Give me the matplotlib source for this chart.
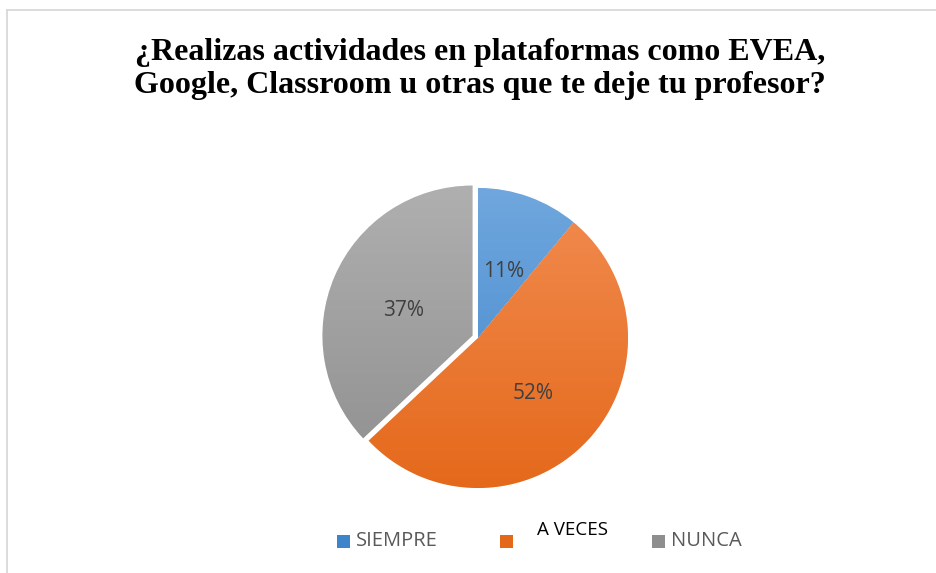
import numpy as np
import matplotlib
matplotlib.use('Agg')
import matplotlib.pyplot as plt
from matplotlib.colors import LinearSegmentedColormap
from matplotlib.patches import Rectangle
from matplotlib.lines import Line2D

title = '¿Realizas actividades en plataformas como EVEA,\nGoogle, Classroom u otras que te deje tu profesor?'
labels = ['SIEMPRE', 'A VECES', 'NUNCA']
values = [11, 52, 37]
top_colors = ['#71a8de', '#f28d52', '#b0b0b0']
bottom_colors = ['#3e84cb', '#e4681a', '#8e8e8e']

W, H = 936, 573
fig = plt.figure(figsize=(W / 100, H / 100), dpi=100)

# thin frame lines (top and left)
fig.add_artist(Line2D([6.5 / W, 1], [1 - 9.5 / H, 1 - 9.5 / H], color='#d9d9d9', lw=1.3))
fig.add_artist(Line2D([6.5 / W, 6.5 / W], [0, 1 - 9.5 / H], color='#d9d9d9', lw=1.3))

fig.text(480 / W, 1 - 69 / H, title, ha='center', va='center', fontsize=23,
         fontweight='bold', family='Liberation Serif', linespacing=1.22)

# pie axes
r_px = 150
cx, cy = 478, 338
half = r_px * 1.1
ax = fig.add_axes([(cx - half) / W, (H - cy - half) / H, 2 * half / W, 2 * half / H])
ax.set_xlim(-1.1, 1.1)
ax.set_ylim(-1.1, 1.1)
ax.axis('off')

wedges, texts, autotexts = ax.pie(values, startangle=90, counterclock=False,
                                  explode=[0, 0, 0.04], autopct='%1.0f%%', pctdistance=0.5,
                                  wedgeprops=dict(edgecolor='white', linewidth=0.5),
                                  textprops=dict(fontsize=15, color='#404040', family='Open Sans'))

grad = np.linspace(0, 1, 256).reshape(-1, 1)
for w, c1, c2 in zip(wedges, top_colors, bottom_colors):
    w.set_facecolor(c2)
    cmap = LinearSegmentedColormap.from_list('g', [c1, c2])
    im = ax.imshow(grad, extent=(-1.1, 1.1, -1.05, 1.05), cmap=cmap, aspect='auto',
                   zorder=w.get_zorder() + 0.1, origin='upper')
    im.set_clip_path(w)
for t in autotexts:
    t.set_zorder(5)
    x, y = t.get_position()
    t.set_position((x, y - 0.03))
ax.set_xlim(-1.1, 1.1)
ax.set_ylim(-1.1, 1.1)

# legend, drawn by hand
legend_items = [(337, 356, 541), (500, None, 541), (652, 671, 541)]
for (mx, tx, ty), lab, c1, c2 in zip(legend_items, labels, top_colors, bottom_colors):
    fig.add_artist(Rectangle((mx / W, 1 - 548 / H), 13 / W, 13 / H,
                             facecolor=c2, edgecolor='none', transform=fig.transFigure))
    if tx is not None:
        fig.text(tx / W, 1 - ty / H, lab, ha='left', va='center', fontsize=14.5,
                 color='#595959', family='Open Sans')
fig.text(537 / W, 1 - 530 / H, labels[1], ha='left', va='center', fontsize=13.5,
         color='black', family='Open Sans')

fig.savefig('out.png', dpi=100, facecolor='white')
